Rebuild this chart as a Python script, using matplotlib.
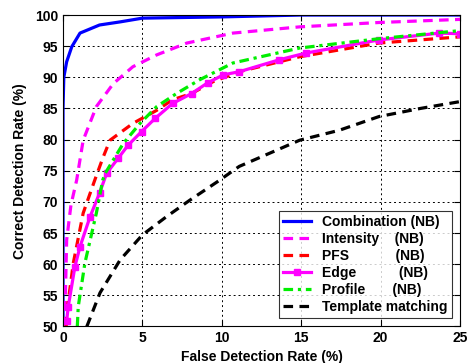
import matplotlib
matplotlib.use("Agg")
import matplotlib.pyplot as plt

plt.rcParams['font.family'] = ['Liberation Sans', 'DejaVu Sans']
plt.rcParams['font.weight'] = 'bold'

comb_x = [0.0, 0.0, 0.0, 0.05, 0.23, 0.55, 1.07, 2.3, 3.6, 5.0, 7.5, 10.0, 15.0, 20.0, 25.0]
comb_y = [50.0, 80.0, 85.0, 90.0, 92.5, 94.9, 97.1, 98.4, 98.9, 99.5, 99.6, 99.7, 100.0, 100.0, 100.0]

int_x = [0.1, 0.15, 0.23, 0.5, 0.86, 1.27, 2.1, 3.17, 4.4, 5.9, 7.8, 10.7, 14.9, 19.9, 25.0]
int_y = [50.0, 55.0, 63.9, 69.5, 73.5, 79.9, 85.3, 89.0, 91.7, 93.6, 95.5, 97.1, 98.1, 98.8, 99.3]

pfs_x = [0.2, 0.23, 0.65, 1.27, 2.0, 2.53, 2.96, 4.4, 5.9, 6.9, 8.1, 9.45, 11.1, 14.9, 19.9, 25.0]
pfs_y = [50.0, 52.1, 60.2, 68.2, 73.5, 77.2, 79.9, 82.6, 84.7, 86.4, 87.4, 89.3, 90.9, 93.3, 95.5, 96.5]

edge_x = [0.23, 0.33, 0.75, 1.07, 1.7, 2.3, 2.75, 3.47, 4.1, 4.95, 5.8, 6.9, 8.1, 9.1, 10.1, 11.1, 13.6, 15.3, 19.9, 23.7, 25.0]
edge_y = [50.9, 53.2, 59.6, 62.8, 67.6, 71.4, 74.6, 77.0, 79.1, 81.3, 83.4, 85.8, 87.4, 89.1, 90.4, 90.9, 92.8, 93.9, 96.0, 97.1, 97.0]

prof_x = [0.9, 0.96, 1.38, 2.1, 2.5, 2.66, 3.8, 4.85, 5.9, 7.15, 8.6, 10.7, 14.9, 19.9, 25.0]
prof_y = [50.0, 53.2, 60.2, 68.2, 73.5, 74.6, 79.4, 82.6, 85.3, 87.4, 89.6, 92.3, 94.7, 96.2, 97.5]

tm_x = [1.5, 2.33, 3.6, 5.0, 6.5, 8.0, 9.7, 11.1, 13.0, 14.9, 17.4, 19.9, 22.5, 25.0]
tm_y = [50.0, 55.4, 60.7, 64.7, 67.6, 70.3, 73.2, 75.7, 77.8, 79.9, 81.5, 83.7, 85.0, 86.1]

labels = ["Combination (NB)", "Intensity    (NB)", "PFS            (NB)",
          "Edge           (NB)", "Profile       (NB)", "Template matching"]

fig = plt.figure(figsize=(4.72, 3.63), dpi=100)
ax = fig.add_axes([0.1335, 0.1006, 0.841, 0.858])

lw = 2.3
ax.plot(comb_x, comb_y, color='#0000ff', lw=lw, ls='-', label=labels[0])
ax.plot(int_x, int_y, color='#ff00ff', lw=lw, ls=(0, (3, 2)), label=labels[1])
ax.plot(pfs_x, pfs_y, color='#ff0000', lw=lw, ls=(0, (3, 2)), label=labels[2])
ax.plot(edge_x, edge_y, color='#ff00ff', lw=lw, ls='-', marker='s', ms=4.5,
        markerfacecolor='#ff00ff', markeredgecolor='#ff00ff', label=labels[3])
ax.plot(prof_x, prof_y, color='#00ee00', lw=lw, ls=(0, (3, 1.5, 1, 1.5)), label=labels[4])
ax.plot(tm_x, tm_y, color='#000000', lw=lw, ls=(0, (3, 2)), label=labels[5])

ax.set_xlim(0, 25)
ax.set_ylim(50, 100)
ax.set_xticks(range(0, 26, 5))
ax.set_yticks(range(50, 101, 5))
ax.grid(True, color='black', ls=(0, (2, 3)), lw=0.7)
ax.tick_params(direction='in', labelsize=10, length=4, top=True, right=True)
for lab in ax.get_xticklabels() + ax.get_yticklabels():
    lab.set_fontweight('bold')
ax.set_xlabel("False Detection Rate (%)", fontsize=10, fontweight='bold', labelpad=3)
ax.set_ylabel("Correct Detection Rate (%)", fontsize=10, fontweight='bold', labelpad=6)

leg = ax.legend(loc='lower right', fontsize=10, frameon=True, fancybox=False,
                edgecolor='black', borderpad=0.3, labelspacing=0.22,
                handlelength=2.0, handletextpad=0.8, borderaxespad=0.6)
leg.get_frame().set_linewidth(0.8)

fig.savefig("out.png", dpi=100)
